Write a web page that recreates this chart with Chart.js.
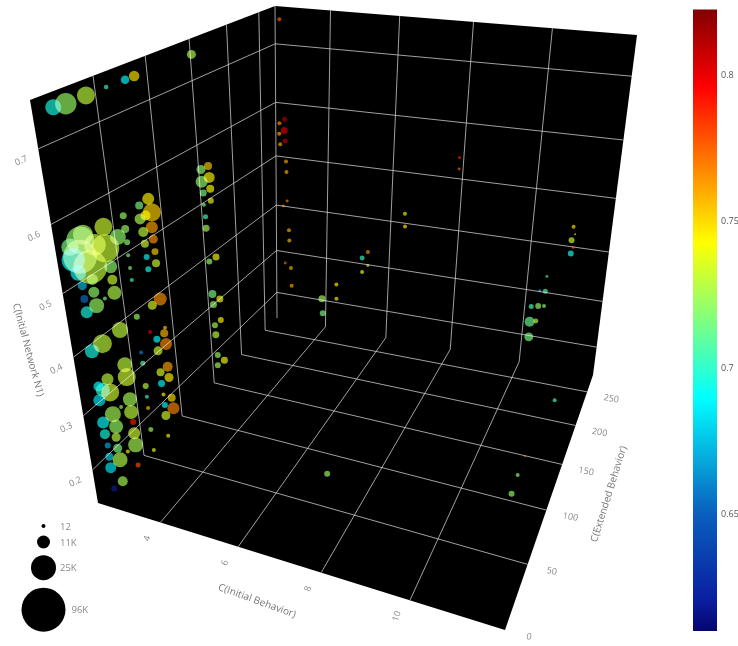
<!DOCTYPE html>
<html><head><meta charset="utf-8">
<style>html,body{margin:0;background:#fff}#wrap{position:relative;width:738px;height:646px;overflow:hidden}canvas{position:absolute;top:0}#main{left:0}#bar{left:660px}</style>
<script src="https://cdn.jsdelivr.net/npm/chart.js@4"></script></head>
<body><div id="wrap"><canvas id="main" width="738" height="646"></canvas><canvas id="bar" width="78" height="646"></canvas></div>
<script>
// ---- values ----
const initialBehavior=[
2.70,2.97,3.40,3.82,4.20,4.38,5.46,5.66,5.52,5.67,5.52,5.68,
5.54,4.43,4.23,3.87,4.48,4.34,4.22,3.88,3.41,2.93,4.45,4.26,
4.46,3.89,4.27,4.47,3.88,4.28,4.47,3.89,4.29,3.90,2.85,3.39,
2.79,2.99,2.62,2.69,2.59,3.70,3.17,3.46,3.00,3.46,2.74,2.99,
3.47,2.74,3.23,3.01,2.75,4.49,4.30,3.92,5.68,5.54,5.56,5.56,
5.73,5.59,5.62,5.77,5.63,5.77,5.64,4.54,5.65,5.67,5.81,5.66,
3.49,3.02,2.73,4.51,4.33,4.53,4.33,4.19,3.93,3.94,3.50,3.51,
4.52,4.34,4.53,3.02,4.34,2.76,2.86,3.04,3.95,2.73,3.95,4.36,
4.55,3.52,4.37,4.57,3.95,3.27,3.51,3.03,4.37,2.74,3.07,3.53,
2.74,3.52,3.03,3.52,3.96,4.38,2.77,3.03,3.98,3.29,2.77,3.05,
3.52,2.76,3.04,2.77,
2.83,2.97,2.80,2.95,2.79,2.98,2.82,3.00,3.01,3.03,2.90,3.08,
3.09,2.95,3.14,3.16,4.17,4.20,4.63,4.64,5.59,5.42,5.60,5.43,
6.64,6.66,8.06,8.07,11.13,11.19,11.12,11.18,11.14,10.61,10.61,10.47,
10.29,10.47,10.62,10.29,10.45,10.31,
11.41,11.30,11.30,11.33,7.30];
const extendedBehavior=[
2,2,2,2,2,2,2,2,2,2,2,2,2,2,2,2,2,2,2,2,2,2,2,2,
2,2,2,2,2,2,2,2,2,2,2,2,2,2,2,2,2,2,2,2,2,2,2,2,
2,2,2,2,2,2,2,2,2,2,2,2,2,2,2,2,2,2,2,2,2,2,2,2,
2,2,2,2,2,2,2,2,2,2,2,2,2,2,2,2,2,2,2,2,2,2,2,2,
2,2,2,2,2,2,2,2,2,2,2,2,2,2,2,2,2,2,2,2,2,2,2,2,
2,2,2,2,
255,255,255,255,255,255,255,255,255,255,255,255,
255,255,255,255,255,255,255,255,255,255,255,255,
255,255,255,255,255,255,255,255,255,255,255,255,
255,255,255,255,255,255,
200,110,90,70,50];
const initialNetwork=[
.754,.761,.775,.789,.801,.807,.841,.715,.709,.701,.694,.687,
.680,.659,.648,.630,.642,.636,.630,.612,.609,.592,.622,.613,
.606,.594,.597,.589,.576,.579,.573,.558,.562,.541,.583,.579,
.559,.547,.552,.534,.570,.599,.581,.554,.529,.535,.516,.510,
.516,.496,.504,.490,.476,.522,.510,.487,.672,.665,.650,.635,
.599,.591,.546,.541,.531,.511,.501,.480,.487,.457,.451,.441,
.460,.431,.414,.471,.459,.455,.441,.468,.432,.415,.405,.385,
.419,.407,.402,.373,.389,.356,.352,.351,.378,.332,.360,.371,
.369,.348,.354,.352,.341,.330,.326,.313,.336,.293,.292,.309,
.272,.289,.272,.268,.304,.301,.252,.252,.268,.251,.231,.231,
.231,.210,.190,.170,
.750,.586,.578,.566,.559,.547,.540,.509,.489,.432,.421,.372,
.350,.299,.290,.249,.231,.197,.270,.237,.352,.337,.323,.307,
.440,.415,.556,.536,.460,.447,.435,.422,.410,.359,.329,.328,
.293,.296,.298,.260,.264,.227,
.180,.210,.210,.213,.202];
const colorValue=[
.695,.722,.73,.70,.69,.748,.727,.755,.72,.745,.72,.743,
.715,.745,.715,.722,.752,.745,.727,.722,.733,.725,.762,.73,
.765,.72,.733,.752,.715,.69,.733,.718,.695,.70,.72,.732,
.725,.73,.69,.69,.715,.72,.73,.72,.722,.733,.675,.72,
.727,.655,.715,.722,.695,.765,.735,.722,.738,.715,.705,.725,
.74,.722,.715,.74,.722,.745,.725,.755,.73,.72,.742,.725,
.73,.73,.695,.757,.69,.767,.733,.80,.66,.71,.73,.733,
.762,.735,.745,.73,.69,.69,.70,.733,.73,.685,.70,.745,
.75,.725,.69,.768,.755,.72,.73,.725,.735,.69,.722,.79,
.695,.733,.73,.725,.725,.74,.67,.715,.74,.745,.68,.727,
.78,.685,.725,.62,
.775,.815,.765,.805,.76,.81,.76,.762,.76,.77,.77,.76,
.758,.775,.76,.762,.725,.715,.745,.745,.765,.70,.75,.74,
.745,.745,.785,.775,.748,.74,.733,.79,.695,.70,.708,.67,
.705,.722,.72,.712,.73,.715,
.705,.78,.722,.72,.722];
const counts=[
14500,20800,16830,740,5600,8000,6100,4900,6100,8560,9800,4900,
3670,9800,4900,3670,16830,7300,8560,4900,16830,19170,9800,7300,
6100,2450,4900,3670,12,2450,4900,12,2450,12,36000,36000,
58000,58000,23000,14000,16000,14500,21000,11000,8560,7300,6100,8560,
12170,4900,12,13330,9800,11000,6100,2450,2450,12,1230,3670,
3670,2450,4900,3670,3670,2450,2450,12,3670,2450,3670,2450,
14500,18000,12170,4900,3670,9800,6100,12,12,1230,13330,16830,
7300,4900,6100,9800,3670,7300,12170,16830,2450,9800,12,12,
4900,12170,2450,9800,12,12,12170,14500,6100,9800,12170,2450,
7300,9800,6100,13330,1230,12,2450,6100,12,12,4900,13330,
1230,8560,7300,2450,
12,1230,12,3670,12,1230,12,12,12,6,6,12,
12,6,12,12,3670,2450,12,12,12,1230,6,12,
12,12,6,6,12,1,2450,6,2450,6,1230,6,
1230,2450,12,7300,1230,6100,
12,1,12,2450,2450];
const behaviorTicks=[4,6,8,10];
const extendedTicks=[0,50,100,150,200,250];
const networkTicks=[0.2,0.3,0.4,0.5,0.6,0.7];
const colorTicks=[0.65,0.7,0.75,0.8];
const sizeLegendCounts=[12,11000,25000,96000];
const sizeLegendLabels=['12','11K','25K','96K'];

// ---- view of the box: image of its eight corners, perspective of each axis ----
const BOX={o:[98,503],b:[505,630],e:[277,318],be:[593,375],n:[30,100],bn:[590,195],en:[275,6],ben:[637,35]};
const RANGE={b:[2.3,12,.852],e:[0,278,1.58],n:[.135,.76,.77]};
const warp=(v,[lo,hi,k])=>{const t=(v-lo)/(hi-lo);return t*k/(1+t*(k-1));};
const mix=(p,q,s)=>[p[0]+(q[0]-p[0])*s,p[1]+(q[1]-p[1])*s];
function project(b,e,n){
  const u=warp(b,RANGE.b),v=warp(e,RANGE.e),w=warp(n,RANGE.n);
  const lo=mix(mix(BOX.o,BOX.b,u),mix(BOX.e,BOX.be,u),v);
  const hi=mix(mix(BOX.n,BOX.bn,u),mix(BOX.en,BOX.ben,u),v);
  const p=mix(lo,hi,w);return {x:p[0],y:p[1]};
}
const [bLo,bHi]=RANGE.b,[eLo,eHi]=RANGE.e,[nLo,nHi]=RANGE.n;

// jet colour scale of the bar
const cMin=.6103,cMax=.8224;
const JET=[[0,5,5,110],[.05,10,30,160],[.19,10,95,190],[.375,0,255,255],[.625,255,255,0],[.875,255,0,0],[1,130,0,0]];
function jet(v,alpha){
  const t=Math.max(0,Math.min(1,(v-cMin)/(cMax-cMin)));
  for(let i=1;i<JET.length;i++){if(t<=JET[i][0]){const a=JET[i-1],b=JET[i],s=(t-a[0])/(b[0]-a[0]);
    const c=[1,2,3].map(j=>Math.round(a[j]+(b[j]-a[j])*s));return `rgba(${c[0]},${c[1]},${c[2]},${alpha})`;}}
}
// bubble size from the size legend
const sizeCounts=[1,12,11000,25000,96000],sizeRadii=[1,2,6.5,12.5,22];
function radiusOf(c){for(let i=1;i<sizeCounts.length;i++){if(c<=sizeCounts[i]){const s=(c-sizeCounts[i-1])/(sizeCounts[i]-sizeCounts[i-1]);return sizeRadii[i-1]+(sizeRadii[i]-sizeRadii[i-1])*s;}}return 22;}

// ---- datasets ----
const GRID='rgba(222,222,222,.72)';
const line=(a,b)=>({type:'line',data:[a,b],borderColor:GRID,borderWidth:1,pointRadius:0,order:3,tension:0,fill:false});
const gridSets=[];
for(const b of behaviorTicks){gridSets.push(line(project(b,eLo,nLo),project(b,eHi,nLo)));gridSets.push(line(project(b,eHi,nLo),project(b,eHi,nHi)));}
for(const e of extendedTicks.slice(1)){gridSets.push(line(project(bLo,e,nLo),project(bHi,e,nLo)));gridSets.push(line(project(bLo,e,nLo),project(bLo,e,nHi)));}
for(const n of networkTicks){gridSets.push(line(project(bLo,eLo,n),project(bLo,eHi,n)));gridSets.push(line(project(bLo,eHi,n),project(bHi,eHi,n)));}
gridSets.push(line(project(bLo,eHi,nLo),project(bLo,eHi,nHi)));

const bubblePts=initialBehavior.map((b,i)=>{const p=project(b,extendedBehavior[i],initialNetwork[i]);return {x:p.x,y:p.y,r:radiusOf(counts[i])};});
const bubbles={type:'bubble',data:bubblePts,order:1,borderWidth:0,borderColor:'transparent',
  backgroundColor:initialBehavior.map((b,i)=>jet(colorValue[i],.66)),screen:true};
const legendY=[526,542,567.7,609.7];
const sizeKey={type:'bubble',order:0,borderWidth:0,backgroundColor:'#000',
  data:sizeLegendCounts.map((c,i)=>({x:43.5,y:legendY[i],r:radiusOf(c)}))};

// ---- text and walls ----
const FONT='"Open Sans","Noto Sans",sans-serif';
function texts(chart){
  const {ctx}=chart,X=chart.scales.x,Y=chart.scales.y;
  const put=(s,x,y,rot,size,col,align)=>{ctx.save();ctx.translate(X.getPixelForValue(x),Y.getPixelForValue(y));ctx.rotate(rot*Math.PI/180);
    ctx.font=`${size}px ${FONT}`;ctx.fillStyle=col;ctx.textAlign=align||'center';ctx.textBaseline='middle';ctx.fillText(s,0,0);ctx.restore();};
  const col='#888';
  behaviorTicks.forEach(b=>{const p=project(b,eLo,nLo);put(String(b),p.x-13,p.y+16,-72,9,col);});
  extendedTicks.forEach(e=>{const p=project(bHi,e,nLo);put(String(e),p.x+24,p.y+7,10,9,col);});
  networkTicks.forEach(n=>{const p=project(bLo,eLo,n);put(String(n),p.x-17,p.y+12,-25,9,col);});
  put('C(Initial Behavior)',257,601,20,10,'#777');
  put('C(Extended Behavior)',609,494,-72.6,10,'#777');
  put('C(Initial Network N1)',28,350,75,10,'#777');
  const lx=[60,60,60,71.5];
  sizeLegendLabels.forEach((s,i)=>put(s,lx[i],legendY[i]+1,0,9.5,col,'left'));
}
const walls={id:'walls',
  beforeDatasetsDraw(chart){
    const {ctx,scales:{x,y}}=chart;
    const o=[project(bLo,eLo,nHi),project(bLo,eHi,nHi),project(bHi,eHi,nHi),project(bHi,eHi,nLo),project(bHi,eLo,nLo),project(bLo,eLo,nLo)];
    ctx.save();ctx.fillStyle='#000';ctx.beginPath();
    o.forEach((p,i)=>{const a=x.getPixelForValue(p.x),b=y.getPixelForValue(p.y);i?ctx.lineTo(a,b):ctx.moveTo(a,b);});
    ctx.closePath();ctx.fill();ctx.restore();
  },
  beforeDatasetDraw(chart,args){if(chart.data.datasets[args.index].screen){chart.ctx.globalCompositeOperation='screen';}},
  afterDatasetDraw(chart,args){if(chart.data.datasets[args.index].screen){chart.ctx.globalCompositeOperation='source-over';}},
  afterDatasetsDraw(chart){texts(chart);}
};
new Chart(document.getElementById('main'),{
  data:{datasets:[sizeKey,bubbles,...gridSets]},
  plugins:[walls],
  options:{responsive:false,animation:false,devicePixelRatio:1,layout:{padding:0,autoPadding:false},
    plugins:{legend:{display:false},tooltip:{enabled:false}},
    scales:{x:{type:'linear',min:0,max:738,display:false},y:{type:'linear',min:0,max:646,reverse:true,display:false}}}
});
// ---- colour bar ----
new Chart(document.getElementById('bar'),{
  type:'bar',
  data:{labels:['c'],datasets:[{data:[[cMin,cMax]],barPercentage:1,categoryPercentage:1,borderWidth:0,
    backgroundColor(c){const a=c.chart.chartArea;if(!a)return '#000';const g=c.chart.ctx.createLinearGradient(0,a.bottom,0,a.top);
      JET.forEach(s=>g.addColorStop(s[0],`rgb(${s[1]},${s[2]},${s[3]})`));return g;}}]},
  options:{responsive:false,animation:false,devicePixelRatio:1,layout:{padding:{left:33,top:6,bottom:15,right:0}},
    plugins:{legend:{display:false},tooltip:{enabled:false}},
    scales:{x:{display:false},
      y:{position:'right',min:cMin,max:cMax,afterFit(s){s.width=21;},afterBuildTicks(s){s.ticks=colorTicks.map(v=>({value:v}));},
        grid:{display:false,drawTicks:false},border:{display:false},
        ticks:{color:'#555',padding:4,autoSkip:false,font:{size:9,family:FONT},callback:v=>String(v)}}}}
});
</script></body></html>
